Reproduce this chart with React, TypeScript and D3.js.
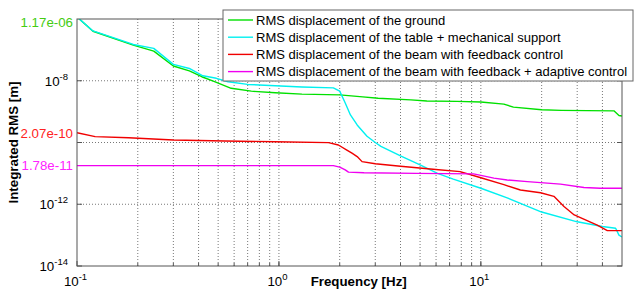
import React, { useEffect, useRef } from 'react';
import * as d3 from 'd3';

// values
const groundFreq = [0.1, 0.12, 0.19, 0.24, 0.3, 0.36, 0.415, 0.48, 0.58, 0.73, 0.96, 1.3, 2.0, 2.6, 3.1, 4.5, 5.4, 7.6, 10, 13, 14.5, 20, 25, 45.6, 48.3, 50];
const groundRms = [1.17e-6, 4.0e-7, 1.43e-7, 9.1e-8, 3.0e-8, 2.1e-8, 1.35e-8, 9.3e-9, 5.7e-9, 4.6e-9, 4.1e-9, 3.7e-9, 3.5e-9, 3.0e-9, 2.7e-9, 2.4e-9, 2.2e-9, 2.15e-9, 2.05e-9, 1.75e-9, 1.4e-9, 1.15e-9, 1.1e-9, 1.06e-9, 7.5e-10, 7.2e-10];

const tableFreq = [0.1, 0.12, 0.19, 0.24, 0.3, 0.36, 0.42, 0.49, 0.56, 0.7, 0.96, 1.3, 1.86, 2.0, 2.13, 2.26, 2.44, 2.73, 3.0, 3.2, 4.0, 5.0, 6.1, 7.3, 10, 13.5, 20, 30, 40, 46.5, 48.3, 50];
const tableRms = [1.17e-6, 4.1e-7, 1.5e-7, 1.12e-7, 3.4e-8, 2.5e-8, 1.45e-8, 1.2e-8, 9.3e-9, 7.6e-9, 6.9e-9, 6.3e-9, 5.9e-9, 4.6e-9, 1.9e-9, 7.8e-10, 3.7e-10, 1.6e-10, 1.0e-10, 7.5e-11, 3.7e-11, 1.9e-11, 1.0e-11, 6.5e-12, 3.3e-12, 1.6e-12, 5.6e-13, 2.7e-13, 1.9e-13, 1.67e-13, 1.0e-13, 8.7e-14];

const feedbackFreq = [0.1, 0.123, 0.18, 0.3, 0.54, 0.96, 1.76, 1.97, 2.17, 2.3, 2.44, 2.58, 3.0, 4.0, 5.8, 7.9, 10, 13, 15.7, 19.75, 23, 25.8, 29, 37.7, 42.3, 50];
const feedbackRms = [2.07e-10, 1.55e-10, 1.43e-10, 1.2e-10, 1.12e-10, 1.06e-10, 9.9e-11, 8.3e-11, 5.7e-11, 4.5e-11, 3.5e-11, 2.4e-11, 2.05e-11, 1.7e-11, 1.36e-11, 1.14e-11, 7.2e-12, 4.3e-12, 2.9e-12, 2.35e-12, 1.8e-12, 8.5e-13, 4.5e-13, 2.1e-13, 1.4e-13, 1.4e-13];

const adaptiveFreq = [0.1, 1.86, 2.0, 2.13, 2.21, 2.64, 4.8, 9.2, 10, 11.6, 13.5, 17, 24.8, 32.4, 39, 50];
const adaptiveRms = [1.78e-11, 1.78e-11, 1.6e-11, 1.3e-11, 1.1e-11, 1.05e-11, 1.0e-11, 9.6e-12, 8.6e-12, 7.0e-12, 6.1e-12, 5.4e-12, 4.5e-12, 3.5e-12, 3.3e-12, 3.3e-12];

const seriesLabels = [
  'RMS displacement of the ground',
  'RMS displacement of the table + mechanical support',
  'RMS displacement of the beam with feedback control',
  'RMS displacement of the beam with feedback + adaptive control',
];
const seriesColors = ['#00e000', '#00f0f0', '#f00000', '#f000f0'];

// 10^-10 and 10^-6 are covered by the annotations in the original
const yTickExps = [-14, -12, -10, -8];
const yLabelExps = [-14, -12, -8];
const xTickExps = [-1, 0, 1];

// colored value annotations on the left
const noteValues = [1.17e-6, 2.07e-10, 1.78e-11];
const noteTexts = ['1.17e-06', '2.07e-10', '1.78e-11'];
const noteColors = ['#44cc11', '#ff2222', '#ff22ff'];

const FONT = '"Liberation Sans", Arial, sans-serif';
const FS = '13.3px';

const App = () => {
  const svgRef = useRef<SVGSVGElement>(null);
  const width = 634;
  const height = 289;

  useEffect(() => {
    const svg = d3.select(svgRef.current);
    svg.selectAll('*').remove();

    const margin = { top: 19, right: 12, bottom: 23, left: 77 };
    const innerWidth = width - margin.left - margin.right;
    const innerHeight = height - margin.top - margin.bottom;

    svg.attr('width', width).attr('height', height).style('background', '#fff');

    const x = d3.scaleLog().domain([0.1, 50]).range([0, innerWidth]);
    const y = d3.scaleLog().domain([1e-14, 1e-6]).range([innerHeight, 0]);

    const g = svg.append('g').attr('transform', `translate(${margin.left},${margin.top})`);

    svg.append('defs').append('clipPath').attr('id', 'plot-clip')
      .append('rect').attr('width', innerWidth).attr('height', innerHeight);

    // vertical grid at every log subdivision
    const xGrid: number[] = [];
    [0.1, 1, 10].forEach(dec => {
      for (let k = 1; k <= 9; k++) {
        const v = dec * k;
        if (v > 0.1 && v < 50) xGrid.push(v);
      }
    });
    g.selectAll('.xgrid')
      .data(xGrid)
      .enter()
      .append('line')
      .attr('x1', d => x(d)).attr('x2', d => x(d))
      .attr('y1', 0).attr('y2', innerHeight)
      .attr('stroke', '#555')
      .attr('stroke-width', 0.8)
      .attr('stroke-dasharray', '1,2');

    g.selectAll('.ygrid')
      .data(yTickExps.slice(1))
      .enter()
      .append('line')
      .attr('x1', 0).attr('x2', innerWidth)
      .attr('y1', d => y(Math.pow(10, d))).attr('y2', d => y(Math.pow(10, d)))
      .attr('stroke', '#555')
      .attr('stroke-width', 0.8)
      .attr('stroke-dasharray', '1,2');

    // curves
    const series = [
      { f: groundFreq, v: groundRms },
      { f: tableFreq, v: tableRms },
      { f: feedbackFreq, v: feedbackRms },
      { f: adaptiveFreq, v: adaptiveRms },
    ];
    const line = d3.line<[number, number]>()
      .x(d => x(d[0]))
      .y(d => y(d[1]));

    const curves = g.append('g').attr('clip-path', 'url(#plot-clip)');
    series.forEach((s, i) => {
      curves.append('path')
        .datum(s.f.map((f, j) => [f, s.v[j]] as [number, number]))
        .attr('d', line)
        .attr('fill', 'none')
        .attr('stroke', seriesColors[i])
        .attr('stroke-width', 1.4)
        .attr('stroke-linejoin', 'round');
    });

    // axes box and ticks
    g.append('rect')
      .attr('width', innerWidth)
      .attr('height', innerHeight)
      .attr('fill', 'none')
      .attr('stroke', '#555')
      .attr('stroke-width', 1);

    // minor x ticks
    g.selectAll('.xminor')
      .data(xGrid)
      .enter()
      .append('line')
      .attr('x1', d => x(d)).attr('x2', d => x(d))
      .attr('y1', innerHeight - 3).attr('y2', innerHeight)
      .attr('stroke', '#555');

    yTickExps.forEach(e => {
      const yy = y(Math.pow(10, e));
      g.append('line').attr('x1', 0).attr('x2', 5).attr('y1', yy).attr('y2', yy).attr('stroke', '#555');
      g.append('line').attr('x1', innerWidth - 5).attr('x2', innerWidth).attr('y1', yy).attr('y2', yy).attr('stroke', '#555');
    });

    yLabelExps.forEach(e => {
      const yy = y(Math.pow(10, e));
      const t = g.append('text')
        .attr('x', -9)
        .attr('y', yy + 5)
        .attr('text-anchor', 'end')
        .style('font-family', FONT)
        .style('font-size', FS)
        .attr('fill', '#000');
      t.append('tspan').text('10');
      t.append('tspan').attr('dy', -6).style('font-size', '9.5px').text(String(e));
    });

    xTickExps.forEach(e => {
      const xx = x(Math.pow(10, e));
      g.append('line').attr('x1', xx).attr('x2', xx).attr('y1', innerHeight - 5).attr('y2', innerHeight).attr('stroke', '#555');
      const t = g.append('text')
        .attr('x', xx - 1.5)
        .attr('y', innerHeight + 20)
        .attr('text-anchor', 'middle')
        .style('font-family', FONT)
        .style('font-size', FS)
        .attr('fill', '#000');
      t.append('tspan').text('10');
      t.append('tspan').attr('dy', -6).style('font-size', '9.5px').text(String(e));
    });

    // axis labels
    g.append('text')
      .attr('x', x(Math.pow(10, 0.4)) - 1)
      .attr('y', innerHeight + 20)
      .attr('text-anchor', 'middle')
      .style('font-family', FONT)
      .style('font-size', FS)
      .style('font-weight', 'bold')
      .text('Frequency [Hz]');

    g.append('text')
      .attr('transform', `translate(${18 - margin.left},${innerHeight / 2}) rotate(-90)`)
      .attr('text-anchor', 'middle')
      .style('font-family', FONT)
      .style('font-size', FS)
      .style('font-weight', 'bold')
      .text('Integrated RMS [m]');

    // colored annotations
    noteValues.forEach((v, i) => {
      g.append('text')
        .attr('x', -4)
        .attr('y', Math.max(y(v), 3) + 4.8)
        .attr('text-anchor', 'end')
        .style('font-family', FONT)
        .style('font-size', FS)
        .attr('fill', noteColors[i])
        .text(noteTexts[i]);
    });

    // legend
    const legend = svg.append('g').attr('transform', 'translate(223,10)');
    legend.append('rect')
      .attr('width', 410)
      .attr('height', 71)
      .attr('fill', '#fff')
      .attr('stroke', '#666')
      .attr('stroke-width', 1);
    seriesLabels.forEach((label, i) => {
      const ly = 10 + i * 17.2;
      legend.append('line')
        .attr('x1', 5).attr('x2', 30)
        .attr('y1', ly).attr('y2', ly)
        .attr('stroke', seriesColors[i])
        .attr('stroke-width', 1.4);
      legend.append('text')
        .attr('x', 33)
        .attr('y', ly + 4.7)
        .style('font-family', FONT)
        .style('font-size', '13px')
        .attr('fill', '#000')
        .text(label);
    });
  }, []);

  return (
    <svg ref={svgRef} style={{ position: 'absolute', left: 0, top: 0 }}></svg>
  );
};

export default App;
